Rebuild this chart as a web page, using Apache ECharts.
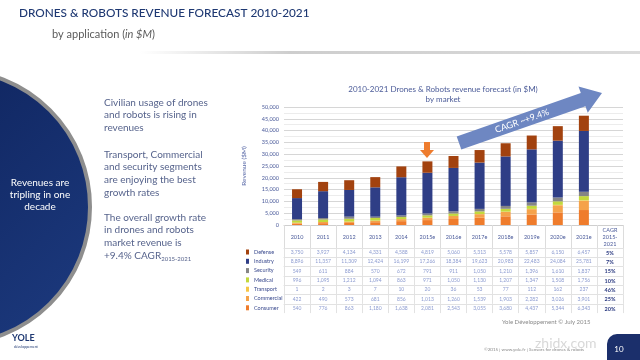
<!DOCTYPE html>
<html><head><meta charset="utf-8">
<script src="https://cdn.jsdelivr.net/npm/echarts@6/dist/echarts.min.js"></script>
<style>html,body{margin:0;padding:0;background:#fff}#c{width:640px;height:360px}</style>
</head><body><div id="c"></div>
<script>
const categories = ['2010','2011','2012','2013','2014','2015e','2016e','2017e','2018e','2019e','2020e','2021e'];
const cagrHeader = 'CAGR\n2015-\n2021';
const defense    = [3750,3927,4134,4331,4588,4819,5060,5313,5578,5857,6150,6457];
const industry   = [8896,11357,11309,12424,16199,17266,18384,19623,20983,22483,24084,25781];
const security   = [549,611,884,570,672,791,911,1050,1210,1396,1610,1837];
const medical    = [996,1095,1212,1094,863,971,1050,1130,1207,1347,1508,1756];
const transport  = [1,2,3,7,10,20,36,53,77,112,162,237];
const commercial = [422,490,573,681,856,1013,1260,1539,1903,2282,3026,3901];
const consumer   = [540,776,863,1180,1638,2081,2543,3055,3680,4437,5344,6343];
const cagr = {Defense:'5%',Industry:'7%',Security:'15%',Medical:'10%',Transport:'46%',Commercial:'25%',Consumer:'20%'};
const yTicks = {min:0,max:50000,interval:5000};

const seriesDefs = [
  {name:'Consumer',data:consumer,color:'#EF7C2C'},
  {name:'Commercial',data:commercial,color:'#F5A24A'},
  {name:'Transport',data:transport,color:'#F6C646'},
  {name:'Medical',data:medical,color:'#C3D83C'},
  {name:'Security',data:security,color:'#858585'},
  {name:'Industry',data:industry,color:'#2F3E86'},
  {name:'Defense',data:defense,color:'#A2420F'}
];
const tableOrder = ['Defense','Industry','Security','Medical','Transport','Commercial','Consumer'];
const byName = {}; seriesDefs.forEach(s=>byName[s.name]=s);

const chart = echarts.init(document.getElementById('c'), null, {renderer:'canvas'});
const fmt = v => v.toLocaleString('en-US');

const xAxes = [{
  type:'category', data: categories.concat([cagrHeader]), gridIndex:0,
  axisLine:{lineStyle:{color:'#cfcfcf'}},
  axisTick:{show:true,length:23,lineStyle:{color:'#dcdcdc'}},
  axisLabel:{fontSize:5.5,color:'#4A5A9A',margin:12,verticalAlign:'middle',lineHeight:7,fontFamily:'Lato',interval:0}
}];
tableOrder.forEach((n,i)=>{
  const vals = byName[n].data.map(fmt).concat([cagr[n]]);
  xAxes.push({
    type:'category', data: vals, gridIndex:0, position:'bottom', offset: 23 + 9.3*i,
    axisLine:{show:true,lineStyle:{color:'#e2e2e2'}},
    axisTick:{show:true,length:9.3,lineStyle:{color:'#e2e2e2'}},
    axisLabel:{fontSize:5,color:'#8C9BD0',margin:2,interval:0,fontFamily:'Lato',
      formatter:(v,idx)=> idx===12 ? '{c|'+v+'}' : v,
      rich:{c:{fontSize:5.5,color:'#2B3A80',fontWeight:'bold'}}},
    splitLine:{show:false}
  });
});

const series = seriesDefs.map(s=>({
  name:s.name, type:'bar', stack:'total', barWidth:10, xAxisIndex:0,
  itemStyle:{color:s.color}, data:s.data, emphasis:{disabled:true}
}));

function arrowPts(T,P,bw,hw,hl){
  const dx=P[0]-T[0], dy=P[1]-T[1], L=Math.hypot(dx,dy);
  const u=[dx/L,dy/L], n=[-u[1],u[0]];
  const B=[P[0]-hl*u[0],P[1]-hl*u[1]];
  const a=(p,k)=>[p[0]+k*n[0],p[1]+k*n[1]];
  return [a(T,bw),a(B,bw),a(B,hw),P,a(B,-hw),a(B,-bw),a(T,-bw)];
}
const T=[459,143], P=[602,93];
const ang = Math.atan2(-(P[1]-T[1]), P[0]-T[0]);

chart.setOption({
  animation:false,
  backgroundColor:'#ffffff',
  title:{text:'2010-2021 Drones & Robots revenue forecast (in $M)\nby market',left:438,top:79,textAlign:'center',
    textStyle:{fontSize:8,fontWeight:'normal',color:'#4B5B98',fontFamily:'Lato',lineHeight:10}},
  legend:{data:tableOrder,orient:'vertical',left:246,top:248.5,itemWidth:3,itemHeight:5,itemGap:2.3,icon:'rect',
    textStyle:{fontSize:5.5,color:'#3A4A8E',fontFamily:'Lato',lineHeight:7},selectedMode:false,padding:0},
  grid:{left:284,right:17,top:107,bottom:135,containLabel:false},
  xAxis:xAxes,
  yAxis:{type:'value',min:yTicks.min,max:yTicks.max,interval:yTicks.interval,
    name:'Revenue ($M)',nameLocation:'middle',nameGap:37,nameRotate:90,
    nameTextStyle:{fontSize:6.5,color:'#5A6AA8',fontFamily:'Lato'},
    axisLabel:{fontSize:5.5,color:'#4A5A9A',margin:5,formatter:v=>fmt(v),fontFamily:'Lato'},
    axisLine:{show:false},axisTick:{show:false},
    splitLine:{lineStyle:{color:'#d6d6d6',width:1}},
    minorTick:{show:false,splitNumber:2},
    minorSplitLine:{show:true,lineStyle:{color:'#ececec'}}},
  series:series,
  graphic:[
    {type:'text',left:19,top:7,style:{text:'DRONES & ROBOTS REVENUE FORECAST 2010-2021',fill:'#1E3872',font:'500 11.8px Lato'}},
    {type:'text',left:52,top:29,style:{text:'by application ({i|in $M})',fill:'#5A5A5A',font:'11px Lato',
      rich:{i:{fontStyle:'italic',fontSize:11,fontFamily:'Lato',fill:'#5A5A5A'}}}},
    {type:'rect',shape:{x:140,y:51,width:500,height:3},style:{fill:new echarts.graphic.LinearGradient(0,0,1,0,[{offset:0,color:'rgba(200,200,200,0)'},{offset:0.3,color:'rgba(200,200,200,0.9)'},{offset:1,color:'rgba(215,215,215,0.9)'}])}},
    {type:'circle',shape:{cx:-47,cy:207,r:137},style:{fill:new echarts.graphic.LinearGradient(0,0,1,1,[{offset:0,color:'#0B1E55'},{offset:1,color:'#1D3B80'}]),stroke:'#8E8E8E',lineWidth:4}},
    {type:'text',x:40,y:177,style:{text:'Revenues are\ntripling in one\ndecade',fill:'#ffffff',font:'10px Lato',align:'center',lineHeight:12}},
    {type:'text',left:104,top:96,style:{text:'Civilian usage of drones\nand robots is rising in\nrevenues',fill:'#56638C',font:'10px Lato',lineHeight:12.7}},
    {type:'text',left:104,top:148,style:{text:'Transport, Commercial\nand security segments\nare enjoying the best\ngrowth rates',fill:'#56638C',font:'10px Lato',lineHeight:12.7}},
    {type:'text',left:104,top:211,style:{text:'The overall growth rate\nin drones and robots\nmarket revenue is\n+9.4% CAGR{s|2015-2021}',fill:'#56638C',font:'10px Lato',lineHeight:12.7,
      rich:{s:{fontSize:6,fill:'#56638C',fontFamily:'Lato',verticalAlign:'bottom',padding:[4,0,0,0]}}}},
    {type:'polygon',z:100,shape:{points:arrowPts(T,P,7,14,20)},style:{fill:'#6E87C2'}},
    {type:'text',z:101,x:522,y:121,rotation:ang,style:{text:'CAGR ~+9.4%',fill:'#ffffff',font:'9px Lato',align:'center',verticalAlign:'middle'}},
    {type:'polygon',z:100,shape:{points:[[424,142],[430,142],[430,150],[434,150],[427,158],[420,150],[424,150]]},style:{fill:'#EE7C2E'}},
    {type:'text',left:502,top:319,style:{text:'Yole Développement © July 2015',fill:'#8A8A8A',font:'6px Lato'}},
    {type:'text',left:484,top:347,style:{text:'©2015 | www.yole.fr | Sensors for drones & robots',fill:'#8A8A8A',font:'4.5px Lato'}},
    {type:'rect',shape:{x:607,y:334,width:40,height:30,r:[10,0,0,0]},style:{fill:'#1B2F6B'}},
    {type:'text',x:619,y:349,style:{text:'10',fill:'#ffffff',font:'8px Lato',align:'center',verticalAlign:'middle'}},
    {type:'text',left:12,top:334,style:{text:'YOLE',fill:'#1E3872',font:'bold 9px Lato'}},
    {type:'text',left:14,top:345,style:{text:'développement',fill:'#1E3872',font:'3.5px Lato'}},
    {type:'text',left:535,top:336,style:{text:'zhidx.com',fill:'rgba(190,190,190,0.6)',font:'14px Lato'}}
  ]
});
</script></body></html>
